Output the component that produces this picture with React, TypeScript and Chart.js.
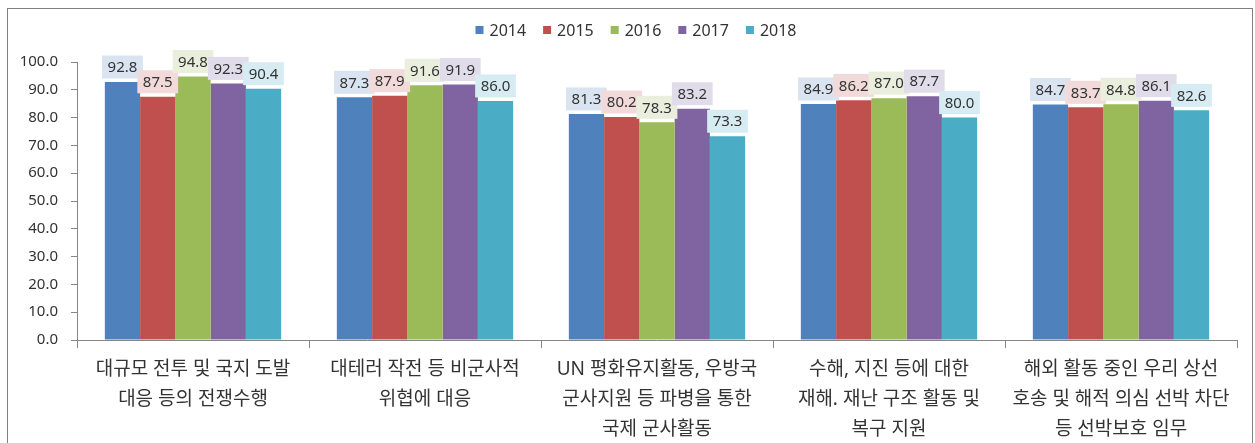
import React, { useEffect, useRef } from "react";
import { Chart, registerables } from "chart.js";

Chart.register(...registerables);

const categories: string[][] = [
  ["대규모 전투 및 국지 도발", "대응 등의 전쟁수행"],
  ["대테러 작전 등 비군사적", "위협에 대응"],
  ["UN 평화유지활동, 우방국", "군사지원 등 파병을 통한", "국제 군사활동"],
  ["수해, 지진 등에 대한", "재해. 재난 구조 활동 및", "복구 지원"],
  ["해외 활동 중인 우리 상선", "호송 및 해적 의심 선박 차단", "등 선박보호 임무"],
];

const years = ["2014", "2015", "2016", "2017", "2018"];

const values2014 = [92.8, 87.3, 81.3, 84.9, 84.7];
const values2015 = [87.5, 87.9, 80.2, 86.2, 83.7];
const values2016 = [94.8, 91.6, 78.3, 87.0, 84.8];
const values2017 = [92.3, 91.9, 83.2, 87.7, 86.1];
const values2018 = [90.4, 86.0, 73.3, 80.0, 82.6];

const seriesValues = [values2014, values2015, values2016, values2017, values2018];

const barColors = ["#4F81BD", "#C0504D", "#9BBB59", "#8064A2", "#4BACC6"];
const labelBgColors = ["#D9E4F0", "#F2DADA", "#EAEEDC", "#E1DCEA", "#D7ECF2"];

const FONT = "'Noto Sans', 'Noto Sans CJK KR', sans-serif";

const valueLabelPlugin = {
  id: "valueLabels",
  afterDatasetsDraw(chart: any) {
    const ctx = chart.ctx;
    ctx.save();
    ctx.font = `15px ${FONT}`;
    ctx.textAlign = "center";
    ctx.textBaseline = "middle";
    chart.data.datasets.forEach((ds: any, di: number) => {
      const meta = chart.getDatasetMeta(di);
      meta.data.forEach((bar: any, i: number) => {
        const text = Number(ds.data[i]).toFixed(1);
        const w = ctx.measureText(text).width + 11;
        const h = 23;
        const cx = bar.x;
        const cy = bar.y - 15;
        ctx.fillStyle = labelBgColors[di];
        ctx.fillRect(cx - w / 2, cy - h / 2, w, h);
        ctx.fillStyle = "#333333";
        ctx.fillText(text, cx, cy + 1);
      });
    });
    ctx.restore();
  },
};

const customLegendPlugin = {
  id: "customLegend",
  afterDraw(chart: any) {
    const ctx = chart.ctx;
    ctx.save();
    ctx.font = `16px ${FONT}`;
    ctx.textBaseline = "middle";
    ctx.textAlign = "left";
    const box = 8;
    const gapBox = 6;
    const gapItem = 17;
    const datasets = chart.data.datasets;
    const widths = datasets.map((ds: any) => box + gapBox + ctx.measureText(ds.label).width);
    const total = widths.reduce((a: number, b: number) => a + b, 0) + gapItem * (datasets.length - 1);
    const centerX = 628;
    const cy = 21;
    let x = centerX - total / 2;
    datasets.forEach((ds: any, i: number) => {
      ctx.fillStyle = ds.backgroundColor;
      ctx.fillRect(x, cy - box / 2, box, box);
      ctx.fillStyle = "#333333";
      ctx.fillText(ds.label, x + box + gapBox, cy + 1);
      x += widths[i] + gapItem;
    });
    ctx.restore();
  },
};

export default function App() {
  const canvasRef = useRef<HTMLCanvasElement | null>(null);

  useEffect(() => {
    if (!canvasRef.current) return;
    const chart = new Chart(canvasRef.current, {
      type: "bar",
      data: {
        labels: categories,
        datasets: years.map((y, i) => ({
          label: y,
          data: seriesValues[i],
          backgroundColor: barColors[i],
          borderWidth: 0,
          categoryPercentage: 0.76,
          barPercentage: 1.0,
        })),
      },
      options: {
        responsive: false,
        maintainAspectRatio: false,
        animation: false,
        layout: { padding: { top: 53, left: 8, right: 15, bottom: 0 } },
        plugins: {
          legend: { display: false },
          tooltip: { enabled: false },
        },
        scales: {
          x: {
            grid: {
              display: true,
              drawOnChartArea: false,
              drawTicks: true,
              tickLength: 8,
              color: "#868686",
              offset: true,
            },
            border: { display: true, color: "#868686", width: 1 },
            ticks: {
              color: "#333333",
              font: { family: FONT, size: 19, lineHeight: 30 / 19 },
              padding: 7,
              maxRotation: 0,
              autoSkip: false,
            },
            afterFit(scale: any) {
              scale.height = 103;
            },
          },
          y: {
            min: 0,
            max: 100,
            grid: {
              display: true,
              drawOnChartArea: false,
              drawTicks: true,
              tickLength: 6,
              color: "#868686",
            },
            border: { display: true, color: "#868686", width: 1 },
            ticks: {
              stepSize: 10,
              color: "#333333",
              font: { family: FONT, size: 15 },
              padding: 13,
              callback: (v: any) => Number(v).toFixed(1),
            },
            afterFit(scale: any) {
              scale.width = 61;
            },
          },
        },
      },
      plugins: [valueLabelPlugin, customLegendPlugin],
    });
    return () => chart.destroy();
  }, []);

  return (
    <div
      style={{
        position: "absolute",
        left: 7,
        top: 8,
        width: 1244,
        height: 448,
        border: "1px solid #808080",
        background: "#ffffff",
      }}
    >
      <canvas ref={canvasRef} width={1244} height={434} style={{ display: "block", width: 1244, height: 434 }} />
    </div>
  );
}
